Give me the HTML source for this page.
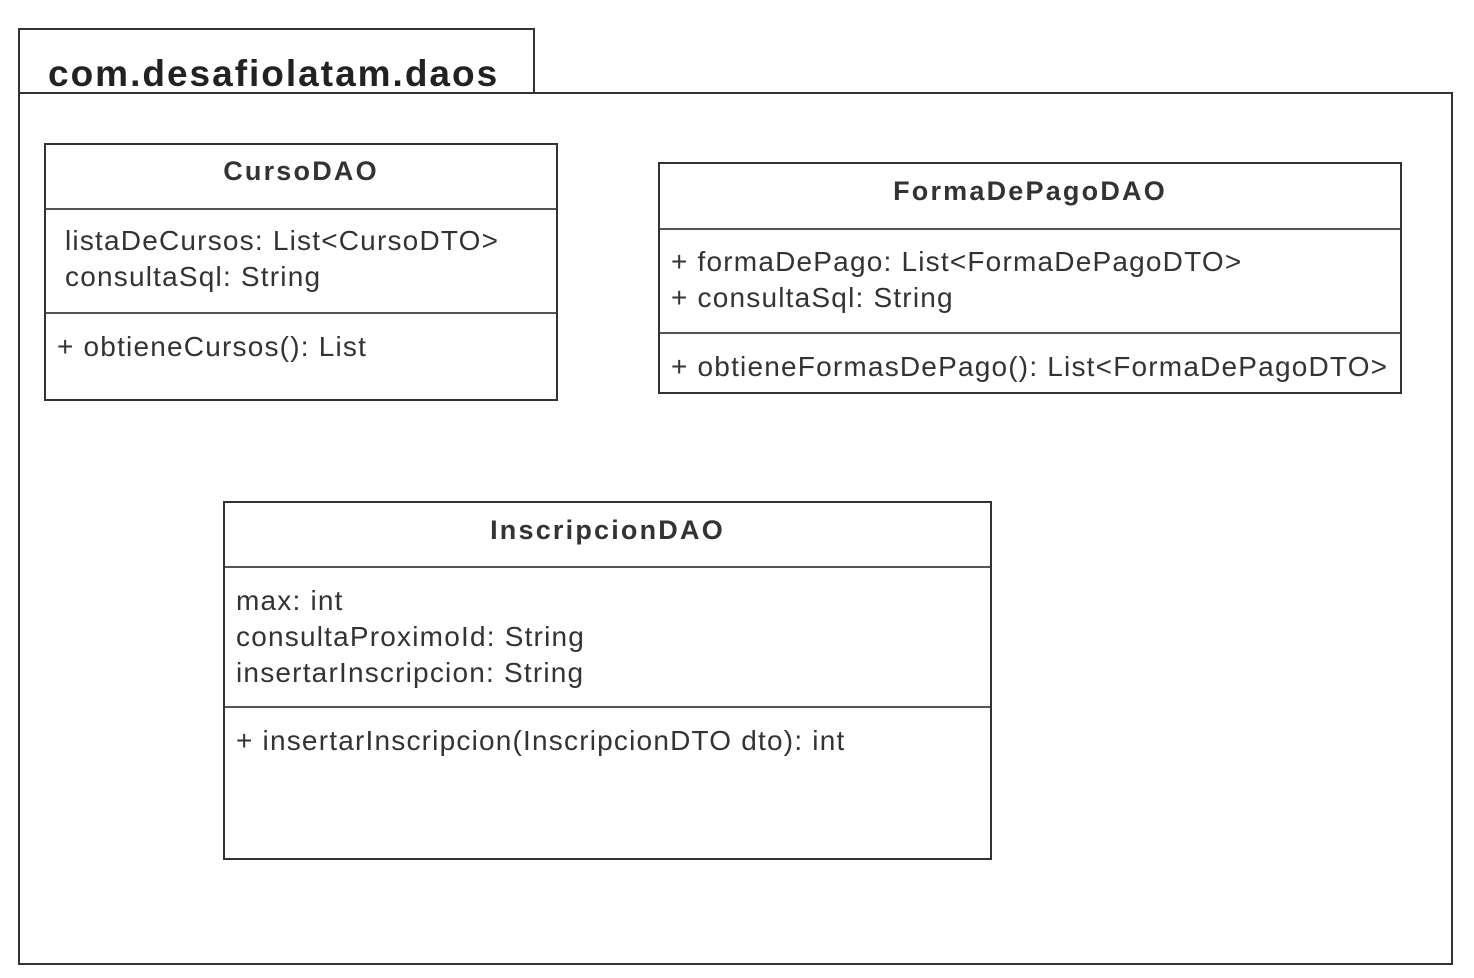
<!DOCTYPE html>
<html><head><meta charset="utf-8"><style>
body{margin:0;width:1474px;height:978px;background:#fff;position:relative;overflow:hidden;font-family:"Liberation Sans",sans-serif;color:#222}
.b{position:absolute;border:2px solid #333;box-sizing:border-box;background:#fff}
.h{position:absolute;left:0;right:0;border-top:2px solid #555}
.t{position:absolute;white-space:nowrap;font-size:28px;color:#333;line-height:36px;letter-spacing:1.2px}
.n{position:absolute;left:0;right:0;text-align:center;font-weight:bold;font-size:27px;color:#333;letter-spacing:2.2px}
</style></head><body>
<div class="b" style="left:18px;top:28px;width:517px;height:66px"></div>
<div class="b" style="left:18px;top:92px;width:1435px;height:873px;border-top:2px solid #333"></div>
<div style="position:absolute;left:48px;top:53px;font-size:37px;font-weight:bold;color:#222;letter-spacing:2px">com.desafiolatam.daos</div>

<div class="b" style="left:44px;top:143px;width:514px;height:258px">
<div class="n" style="top:11px">CursoDAO</div>
<div class="h" style="top:63px"></div>
<div class="t" style="left:19px;top:78px">listaDeCursos: List&lt;CursoDTO&gt;<br>consultaSql: String</div>
<div class="h" style="top:167px"></div>
<div class="t" style="left:11px;top:184px">+ obtieneCursos(): List</div>
</div>

<div class="b" style="left:658px;top:162px;width:744px;height:232px">
<div class="n" style="top:12px">FormaDePagoDAO</div>
<div class="h" style="top:64px"></div>
<div class="t" style="left:11px;top:80px">+ formaDePago: List&lt;FormaDePagoDTO&gt;<br>+ consultaSql: String</div>
<div class="h" style="top:168px"></div>
<div class="t" style="left:11px;top:185px">+ obtieneFormasDePago(): List&lt;FormaDePagoDTO&gt;</div>
</div>

<div class="b" style="left:223px;top:501px;width:769px;height:359px">
<div class="n" style="top:12px">InscripcionDAO</div>
<div class="h" style="top:63px"></div>
<div class="t" style="left:11px;top:80px">max: int<br>consultaProximoId: String<br>insertarInscripcion: String</div>
<div class="h" style="top:203px"></div>
<div class="t" style="left:11px;top:220px">+ insertarInscripcion(InscripcionDTO dto): int</div>
</div>
</body></html>
